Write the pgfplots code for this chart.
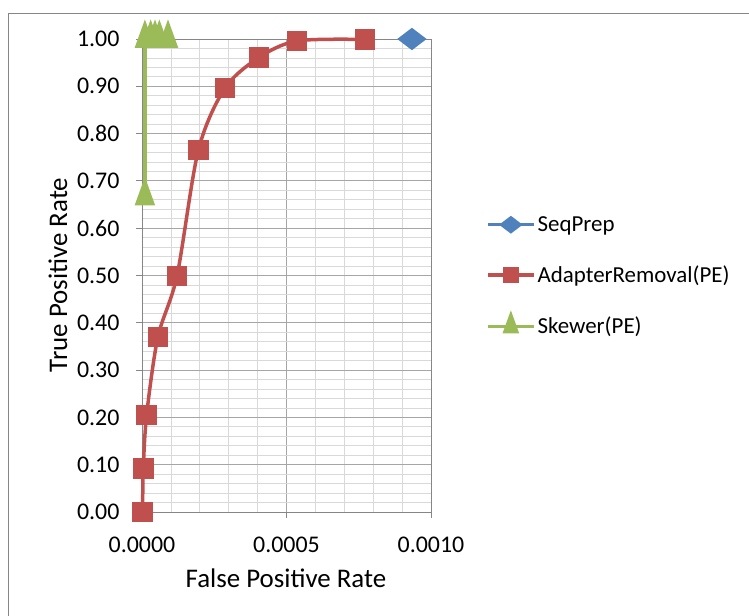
\documentclass[border=0pt]{standalone}
\usepackage{pgfplots}
\pgfplotsset{compat=1.18}
\usepackage{fontspec}
\setmainfont{Carlito}
\definecolor{sblue}{HTML}{4F81BD}
\definecolor{sred}{HTML}{C0504D}
\definecolor{sgreen}{HTML}{9BBB59}
\definecolor{axgray}{HTML}{868686}
\definecolor{majgrid}{HTML}{A6A6A6}
\definecolor{mingrid}{HTML}{D9D9D9}

\begin{document}
\begin{tikzpicture}[x=1bp,y=1bp]
\begin{axis}[
  at={(142bp,104bp)}, anchor=south west,
  scale only axis, width=289bp, height=473bp,
  xmin=0, xmax=0.001, ymin=0, ymax=1,
  clip=false,
  font=\fontsize{24}{28}\selectfont,
  /pgf/number format/assume math mode=true,
  xtick={0,0.0005,0.001},
  ytick={0,0.1,0.2,0.3,0.4,0.5,0.6,0.7,0.8,0.9,1},
  minor x tick num=4, minor y tick num=4,
  scaled x ticks=false,
  xticklabel style={yshift=-15bp, /pgf/number format/fixed, /pgf/number format/fixed zerofill, /pgf/number format/precision=4},
  yticklabel style={xshift=-13bp, /pgf/number format/fixed, /pgf/number format/fixed zerofill, /pgf/number format/precision=2},
  tick align=outside, major tick length=6bp, minor tick length=0pt,
  tick style={axgray, line width=0.8bp},
  xtick pos=bottom, ytick pos=left,
  grid=both,
  major grid style={majgrid, line width=0.8bp},
  minor grid style={mingrid, line width=0.8bp},
  axis line style={axgray, line width=0.8bp},
  xlabel={False Positive Rate}, ylabel={True Positive Rate},
  label style={font=\fontsize{27}{31}\selectfont},
  xlabel style={at={(axis description cs:0.498,-0.1395)}, anchor=center},
  ylabel style={at={(axis description cs:-0.291,0.501)}, anchor=center, rotate=0},
  legend style={at={(axis description cs:1.19,0.499)}, anchor=west, draw=none, fill=none,
    font=\fontsize{23}{27}\selectfont, row sep=29bp, inner sep=0pt},
  legend cell align=left,
  legend image code/.code={\draw[mark repeat=2,mark phase=2,#1,every mark/.append style={scale=0.75}] plot coordinates {(0bp,0bp) (23bp,0bp) (46bp,0bp)};},
]
\addplot[sblue, line width=3.5bp, mark=diamond*, mark size=9bp, mark options={xscale=1.75}] coordinates {
  (0.000934, 1.000)
};
\addlegendentry{SeqPrep}
\addplot[sred, line width=3.5bp, smooth, mark=square*, mark size=8.5bp, mark options={solid}] coordinates {
  (0.000002, 0.000)
  (0.0000045, 0.092)
  (0.000016, 0.205)
  (0.000055, 0.370)
  (0.000121, 0.499)
  (0.000195, 0.765)
  (0.000287, 0.896)
  (0.000405, 0.961)
  (0.000537, 0.996)
  (0.000772, 0.999)
};
\addlegendentry{AdapterRemoval(PE)}
\addplot[sgreen, line width=3.5bp, mark=triangle*, mark size=9bp, mark options={yscale=1.6}] coordinates {
  (0.000010, 0.667)
  (0.000010, 1.000)
  (0.000030, 1.000)
  (0.000045, 1.000)
  (0.000060, 1.000)
  (0.000090, 1.000)
};
\addlegendentry{Skewer(PE)}
\end{axis}
\draw[axgray, line width=1bp] (8,602) rectangle (820,-60);
\pgfresetboundingbox
\useasboundingbox (0,0) rectangle (749,616);
\end{tikzpicture}
\end{document}
